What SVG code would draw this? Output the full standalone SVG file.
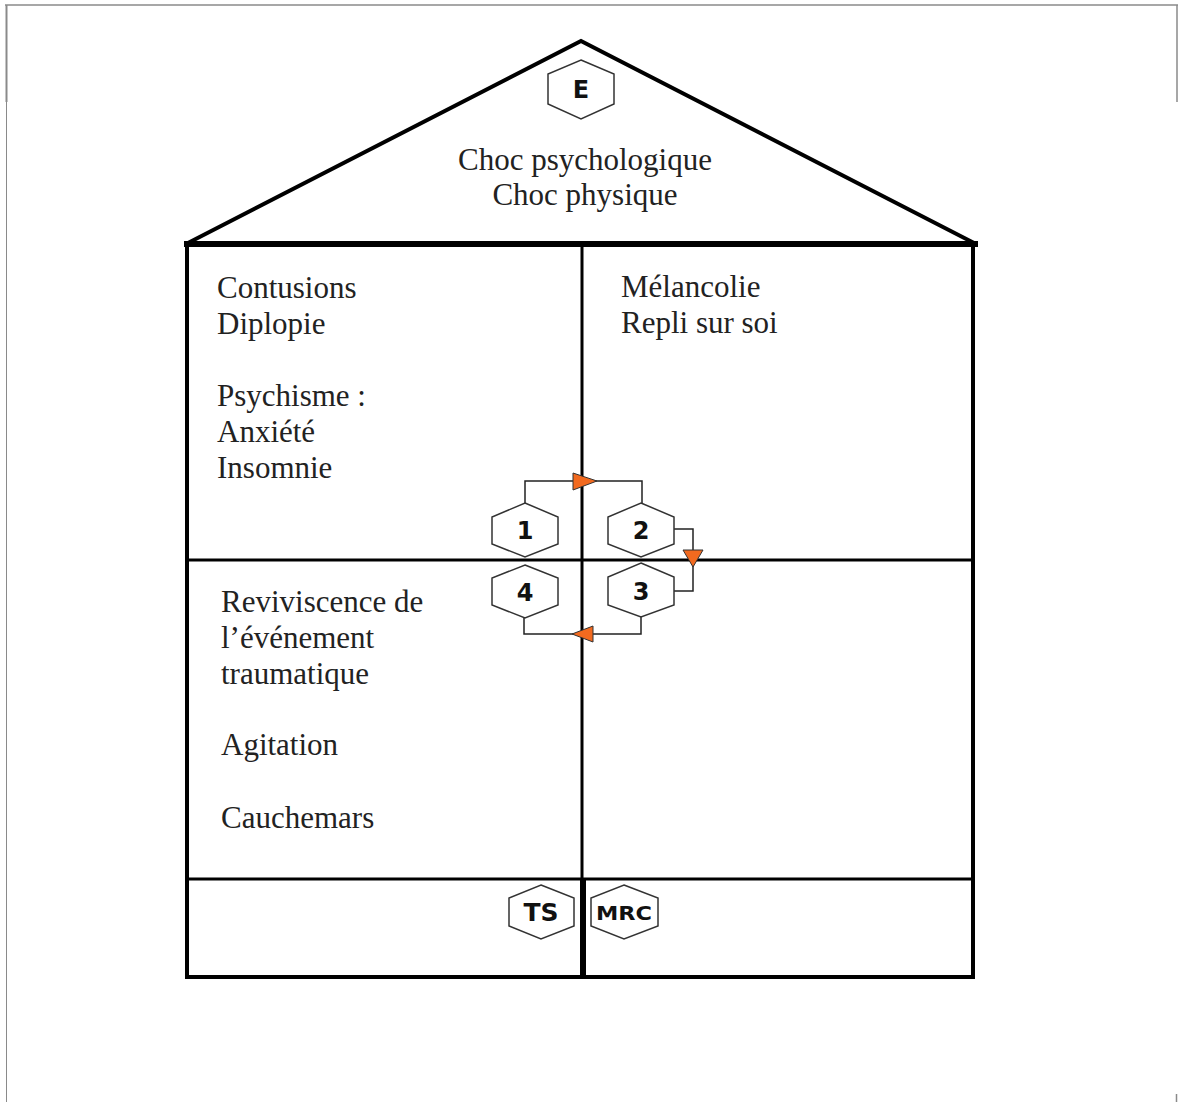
<svg xmlns="http://www.w3.org/2000/svg" width="1178" height="1102" viewBox="0 0 1178 1102">
<style>
.frame{stroke:#8a8a8a;fill:none}
.wall{stroke:#000;stroke-width:4;fill:none}
.inner{stroke:#000;stroke-width:3;fill:none}
.hex{fill:#fff;stroke:#333;stroke-width:1.5}
.hl{font-family:"DejaVu Sans",Verdana,sans-serif;font-weight:bold;font-size:24px;fill:#111;text-anchor:middle}
.t{font-family:"Liberation Serif","Times New Roman",serif;font-size:31px;fill:#222}
.conn{stroke:#222;stroke-width:1.5;fill:none}
.arr{fill:#F26A1F;stroke:#333;stroke-width:1}
</style>
<rect width="1178" height="1102" fill="#fff"/>
<g id="frame">
<line class="frame" x1="5" y1="5" x2="1178" y2="5" stroke-width="1.5"/>
<line class="frame" x1="6.5" y1="5" x2="6.5" y2="102" stroke-width="2"/>
<line class="frame" x1="6.5" y1="102" x2="6.5" y2="1102" stroke-width="1"/>
<line class="frame" x1="1177" y1="5" x2="1177" y2="102" stroke-width="1.5"/>
<line class="frame" x1="1176.5" y1="1094" x2="1176.5" y2="1102" stroke-width="1.5"/>
</g>
<g id="house">
<polyline class="wall" points="186,244 581,41 976,244" stroke-width="4.5"/>
<line x1="184" y1="244" x2="978" y2="244" stroke="#000" stroke-width="6"/>
<line class="wall" x1="187" y1="244" x2="187" y2="979"/>
<line class="wall" x1="973" y1="244" x2="973" y2="979"/>
<line class="wall" x1="185" y1="977" x2="975" y2="977"/>
<line class="inner" x1="582" y1="244" x2="582" y2="879"/>
<line x1="583" y1="879" x2="583" y2="979" stroke="#000" stroke-width="6"/>
<line class="inner" x1="187" y1="560" x2="973" y2="560"/>
<line class="inner" x1="187" y1="879" x2="973" y2="879"/>
</g>
<g id="texts">
<text class="t" x="585" y="170" text-anchor="middle">Choc psychologique</text>
<text class="t" x="585" y="205" text-anchor="middle">Choc physique</text>
<text class="t" x="217" y="298">Contusions</text>
<text class="t" x="217" y="334">Diplopie</text>
<text class="t" x="217" y="406">Psychisme :</text>
<text class="t" x="217" y="442">Anxiété</text>
<text class="t" x="217" y="478">Insomnie</text>
<text class="t" x="621" y="297">Mélancolie</text>
<text class="t" x="621" y="333">Repli sur soi</text>
<text class="t" x="221" y="612">Reviviscence de</text>
<text class="t" x="221" y="648">l’événement</text>
<text class="t" x="221" y="684">traumatique</text>
<text class="t" x="221" y="755">Agitation</text>
<text class="t" x="221" y="828">Cauchemars</text>
</g>
<g id="connectors">
<polyline class="conn" points="525,503 525,481 642,481 642,503"/>
<polyline class="conn" points="674,529 693,529 693,591 674,591"/>
<polyline class="conn" points="641,617 641,634 524,634 524,618"/>
<polygon class="arr" points="573,473 597,481 573,490"/>
<polygon class="arr" points="683,550 703,550 693,567"/>
<polygon class="arr" points="593,626 572,634 593,642"/>
</g>
<g id="node-E">
<polygon class="hex" points="581,60 614,74 614,104 581,119 548,104 548,74"/>
<text class="hl" x="581" y="98">E</text>
</g>
<g id="node-1">
<polygon class="hex" points="525,503 558,517 558,544 525,557 492,544 492,517"/>
<text class="hl" x="525" y="539">1</text>
</g>
<g id="node-2">
<polygon class="hex" points="641,503 674,517 674,544 641,557 608,544 608,517"/>
<text class="hl" x="641" y="539">2</text>
</g>
<g id="node-3">
<polygon class="hex" points="641,563 674,577 674,605 641,617 608,605 608,577"/>
<text class="hl" x="641" y="600">3</text>
</g>
<g id="node-4">
<polygon class="hex" points="525,565 558,578 558,605 525,618 492,605 492,578"/>
<text class="hl" x="525" y="601">4</text>
</g>
<g id="node-TS">
<polygon class="hex" points="541,885 574,898 574,926 541,939 509,926 509,898"/>
<text class="hl" x="541" y="921" style="font-size:25px">TS</text>
</g>
<g id="node-MRC">
<polygon class="hex" points="624,885 658,898 658,926 624,939 591,926 591,898"/>
<text class="hl" x="624" y="920" style="font-size:20px" textLength="56" lengthAdjust="spacingAndGlyphs">MRC</text>
</g>
</svg>
